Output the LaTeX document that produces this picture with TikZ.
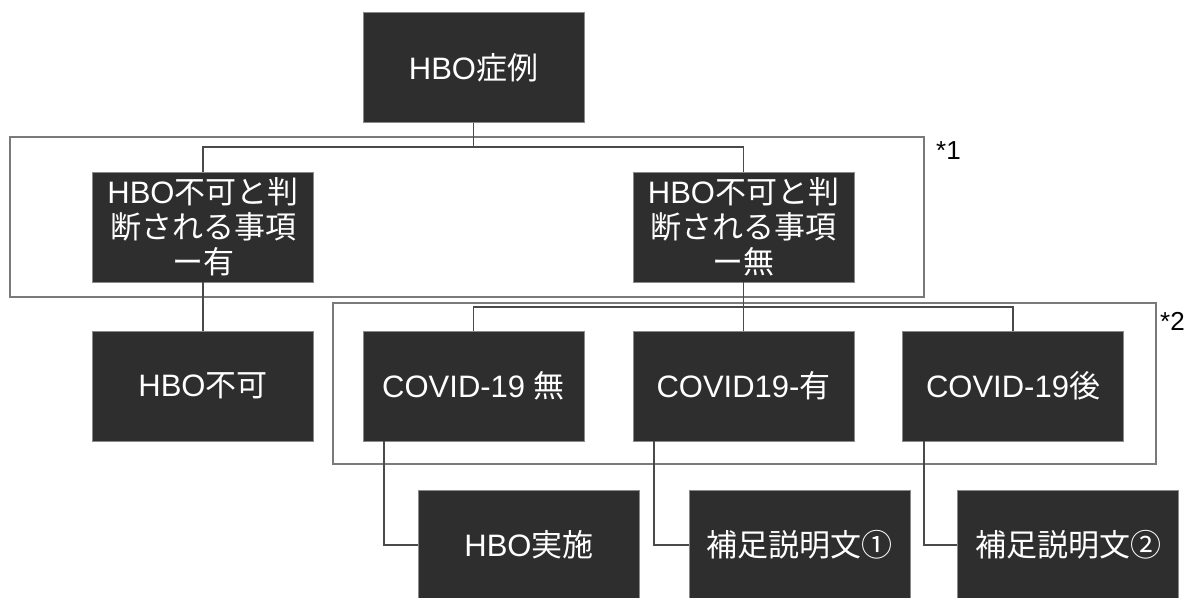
\documentclass[tikz,border=0pt]{standalone}
\usepackage{fontspec}
\setmainfont{Liberation Sans}
\newfontfamily\cjk{Noto Sans CJK JP}
\newcommand\J[1]{{\cjk #1}}
\definecolor{boxfill}{HTML}{2E2E2E}
\definecolor{boxedge}{HTML}{8A8A8A}
\definecolor{framecol}{HTML}{7A7A7A}
\definecolor{conncol}{HTML}{4A4A4A}
\begin{document}
\begin{tikzpicture}[x=1pt,y=-1pt,
  box/.style={draw=boxedge, line width=0.8pt, fill=boxfill, text=white,
    minimum width=221pt, minimum height=110pt, inner sep=0pt,
    font=\fontsize{31}{35}\selectfont, align=center},
  conn/.style={draw=conncol, line width=1.8pt},
  frm/.style={draw=framecol, line width=1.8pt},
  note/.style={font=\fontsize{26}{30}\selectfont, anchor=west, inner sep=0pt}]
\useasboundingbox (0,0) rectangle (1193,597);
% frames
\draw[frm] (10,137) rectangle (924,297);
\draw[frm] (333,303) rectangle (1156,464);
\node[note] (n1) at (936,151) {*1};
\node[note] (n2) at (1160,321) {*2};
% nodes
\node[box] (top) at (473.5,67.5) {HBO\J{症例}};
\node[box] (yes) at (203,227) {HBO\J{不可と判}\\\J{断される事項}\\\J{ー有}};
\node[box] (no)  at (743.5,227) {HBO\J{不可と判}\\\J{断される事項}\\\J{ー無}};
\node[box] (ng)  at (203,386) {HBO\J{不可}};
\node[box] (c1)  at (473.5,386) {COVID-19 \J{無}};
\node[box] (c2)  at (743.5,386) {COVID19-\J{有}};
\node[box] (c3)  at (1013,386) {COVID-19\J{後}};
\node[box] (b1)  at (529,545) {HBO\J{実施}};
\node[box] (b2)  at (799.5,545) {\J{補足説明文①}};
\node[box] (b3)  at (1068,545) {\J{補足説明文②}};
% connectors
\coordinate (j1) at (473.5,147);
\draw[conn] (top.south) -- (j1);
\draw[conn] (yes.north) |- (j1) -| (no.north);
\draw[conn] (yes.south) -- (ng.north);
\coordinate (j2) at (743.5,307);
\draw[conn] (no.south) -- (j2);
\draw[conn] (c1.north) |- (j2) -| (c3.north);
\draw[conn] (j2) -- (c2.north);
\draw[conn] ([xshift=-89.5pt]c1.south) |- (b1.west);
\draw[conn] ([xshift=-89.5pt]c2.south) |- (b2.west);
\draw[conn] ([xshift=-89pt]c3.south) |- (b3.west);
\end{tikzpicture}
\end{document}
